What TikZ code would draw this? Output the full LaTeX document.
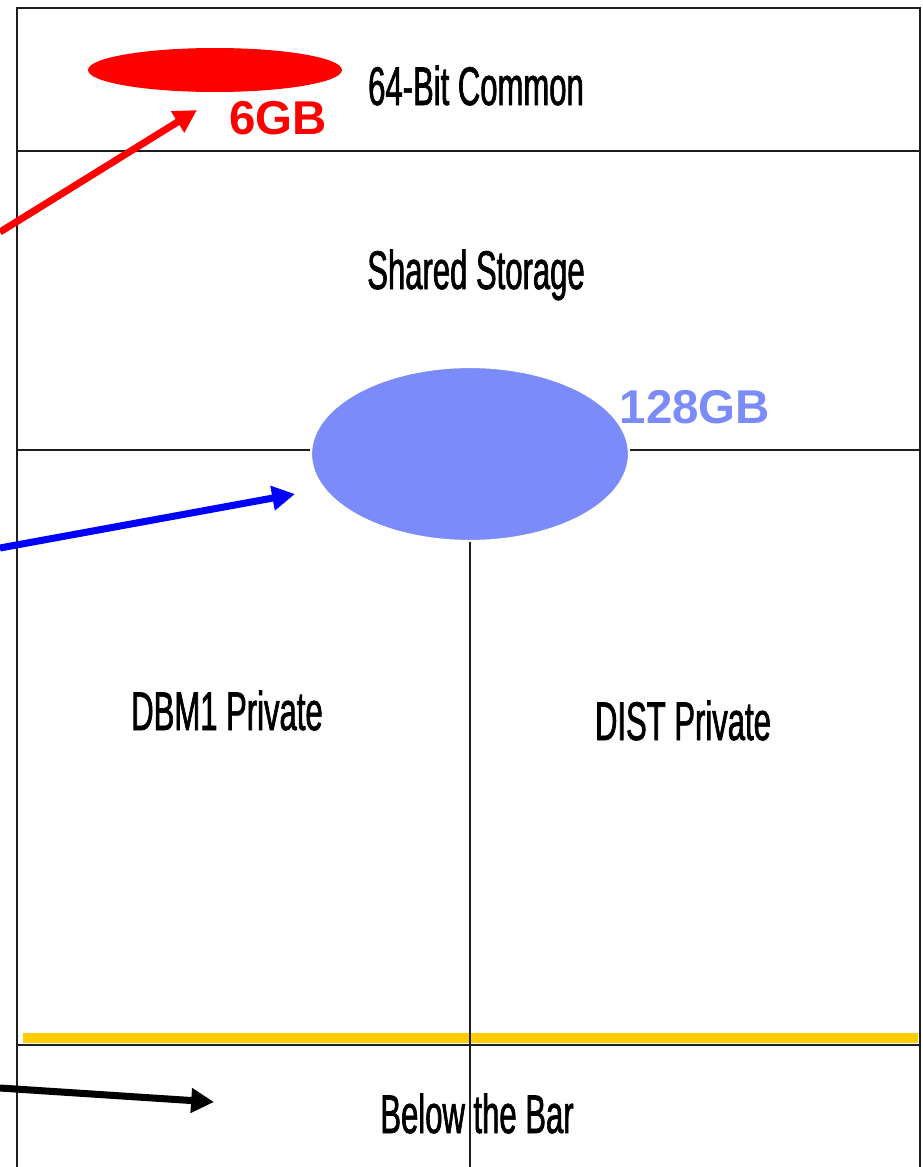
\documentclass[tikz,border=0pt]{standalone}
\usepackage{fontspec}
\setmainfont{Liberation Sans}
\newfontfamily\narrowfont{Liberation Sans}[FakeStretch=0.57,FakeBold=1.2]
\usetikzlibrary{arrows.meta,shapes.geometric}
\definecolor{ellblue}{RGB}{123,140,250}
\definecolor{baryellow}{RGB}{255,204,0}
\definecolor{boxline}{RGB}{30,30,30}
\tikzset{
  frame/.style={draw=boxline, line width=1.1pt},
  area/.style={font=\narrowfont\fontsize{31}{33}\selectfont, anchor=base, inner sep=0pt},
  sizelabel/.style={font=\bfseries\fontsize{27}{29}\selectfont, anchor=base, inner sep=0pt},
  pointer/.style={line width=4pt, -{Triangle[length=13pt,width=13.5pt]}},
  blob/.style={ellipse, inner sep=0pt},
}
\begin{document}
\begin{tikzpicture}[x=0.02cm,y=-0.02cm]
\useasboundingbox (0,0) rectangle (923,1167);
% frame
\draw[frame] (17,1167) -- (17,8) -- (920,8) -- (920,1167);
\draw[frame] (17,151) -- (920,151);
\draw[frame] (17,450) -- (920,450);
\draw[frame] (17,1045) -- (920,1045);
% bar
\fill[baryellow] (23,1033) rectangle (918,1043);
% ellipses
\node[blob, fill=red, minimum width=5.08cm, minimum height=0.88cm] (red) at (215,70) {};
\node[blob, fill=ellblue, draw=white, line width=1.2pt, minimum width=6.36cm, minimum height=3.48cm] (blue) at (470,454) {};
% divider
\coordinate (divbot) at (470,1167);
\draw[frame] (blue.south) -- (divbot);
% texts
\node[area] (common) at (476,105) {64-Bit Common};
\node[area] (shared) at (476,289) {Shared Storage};
\node[area] (dbm) at (227,730) {DBM1 Private};
\node[area] (dist) at (683,740) {DIST Private};
\node[area] (below) at (477,1133) {Below the Bar};
\node[sizelabel, text=red] (six) at (278,134) {6GB};
\node[sizelabel, text=ellblue] (big) at (695,423) {128GB};
% arrows
\coordinate (rs) at (0,232);
\coordinate (rt) at (197,110);
\coordinate (bs) at (0,548);
\coordinate (bt) at (295,494);
\coordinate (ks) at (0,1088);
\coordinate (kt) at (214,1102);
\draw[pointer, red] (rs) -- (rt);
\draw[pointer, blue] (bs) -- (bt);
\draw[pointer, black] (ks) -- (kt);
\end{tikzpicture}
\end{document}
